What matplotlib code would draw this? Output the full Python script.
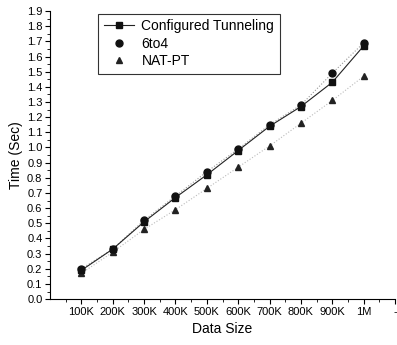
import numpy as np
from matplotlib import pyplot as plt
from matplotlib.lines import Line2D

plt.rcParams['font.family'] = ['Liberation Sans', 'DejaVu Sans']

# data
sizes = ['100K', '200K', '300K', '400K', '500K', '600K', '700K', '800K', '900K', '1M']
configured = [0.19, 0.33, 0.51, 0.67, 0.82, 0.98, 1.14, 1.27, 1.43, 1.67]
sixto4 = [0.20, 0.33, 0.52, 0.68, 0.84, 0.99, 1.15, 1.28, 1.49, 1.69]
natpt = [0.17, 0.31, 0.46, 0.59, 0.73, 0.87, 1.01, 1.16, 1.31, 1.47]

x = np.arange(1, len(sizes) + 1)

fig = plt.figure(figsize=(3.97, 3.45), dpi=100)
ax = fig.add_axes([0.126, 0.133, 0.869, 0.835])

ax.plot(x, natpt, linestyle=':', color='#bbbbbb', linewidth=0.8,
        marker='^', markersize=4, markerfacecolor='#222222', markeredgecolor='#222222')
ax.plot(x, sixto4, linestyle=':', color='#999999', linewidth=0.8,
        marker='o', markersize=5, markerfacecolor='#111111', markeredgecolor='#111111')
ax.plot(x, configured, linestyle='-', color='#222222', linewidth=0.8,
        marker='s', markersize=5, markerfacecolor='#111111', markeredgecolor='#111111')

ax.set_xlim(0, 11)
ax.set_ylim(0, 1.9)
ax.set_xticks(list(x) + [11])
ax.set_xticklabels(sizes + ['-'], fontsize=8)
ax.set_xticks(np.arange(0.5, 11, 1), minor=True)
ax.set_yticks(np.arange(0, 1.91, 0.1))
ax.set_yticklabels(['%.1f' % v for v in np.arange(0, 1.91, 0.1)], fontsize=8)
ax.set_yticks(np.arange(0.05, 1.9, 0.1), minor=True)
ax.tick_params(direction='out', length=3.5, width=0.8, pad=2)
ax.tick_params(which='minor', direction='out', length=2, width=0.6)

ax.spines['top'].set_visible(False)
ax.spines['right'].set_visible(False)

ax.set_xlabel('Data Size', fontsize=10)
ax.set_ylabel('Time (Sec)', fontsize=10, labelpad=3)

handles = [
    Line2D([], [], linestyle='-', color='#222222', linewidth=0.8, marker='s',
           markersize=5, markerfacecolor='#111111', markeredgecolor='#111111'),
    Line2D([], [], linestyle='none', marker='o', markersize=5,
           markerfacecolor='#111111', markeredgecolor='#111111'),
    Line2D([], [], linestyle='none', marker='^', markersize=4,
           markerfacecolor='#222222', markeredgecolor='#222222'),
]
labels = ['Configured Tunneling', '6to4', 'NAT-PT']
leg = ax.legend(handles, labels, loc='upper left', bbox_to_anchor=(0.12, 1.015),
                fontsize=10, frameon=True, fancybox=False, edgecolor='black',
                handlelength=2.2, borderpad=0.4, labelspacing=0.25, handletextpad=0.5)
leg.get_frame().set_linewidth(0.8)

fig.savefig('out.png', dpi=100)
